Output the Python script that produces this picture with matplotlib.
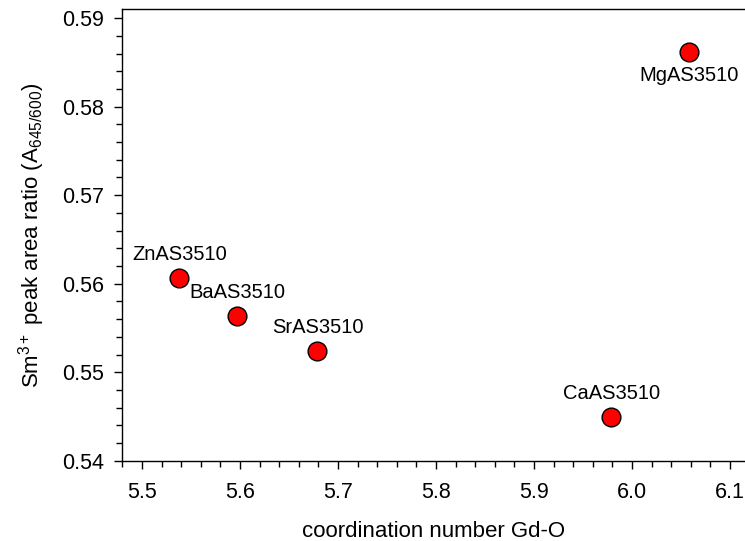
import matplotlib
matplotlib.use("Agg")
from matplotlib import pyplot as plt
from matplotlib.ticker import MultipleLocator

plt.rcParams['font.family'] = ['Liberation Sans', 'DejaVu Sans']
plt.rcParams['mathtext.fontset'] = 'custom'
plt.rcParams['mathtext.rm'] = 'Liberation Sans'
plt.rcParams['mathtext.it'] = 'Liberation Sans'

# data
samples = ['ZnAS3510', 'BaAS3510', 'SrAS3510', 'CaAS3510', 'MgAS3510']
coord_num = [5.538, 5.597, 5.679, 5.979, 6.058]
area_ratio = [0.5606, 0.5563, 0.5524, 0.5449, 0.5862]
# label above (+1) or below (-1) the marker
label_side = [1, 1, 1, 1, -1]

fig = plt.figure(figsize=(7.45, 5.41), dpi=100)
ax = fig.add_axes([0.1638, 0.1484, 0.8362, 0.8344])

ax.plot(coord_num, area_ratio, 'o', ms=13.5, mfc='#ff0000', mec='black',
        mew=1.0, ls='none')

for name, x, y, side in zip(samples, coord_num, area_ratio, label_side):
    ax.annotate(name, (x, y), xytext=(0, 17 * side), textcoords='offset points',
                ha='center', va='center', fontsize=14.5)

ax.set_xlim(5.4796, 6.1153)
ax.set_ylim(0.54, 0.5910)

ax.xaxis.set_major_locator(MultipleLocator(0.1))
ax.xaxis.set_minor_locator(MultipleLocator(0.02))
ax.yaxis.set_major_locator(MultipleLocator(0.01))
ax.yaxis.set_minor_locator(MultipleLocator(0.002))
ax.xaxis.set_major_formatter(plt.FormatStrFormatter('%.1f'))
ax.yaxis.set_major_formatter(plt.FormatStrFormatter('%.2f'))

ax.tick_params(which='both', direction='out', top=False, right=False, width=1)
ax.tick_params(which='major', length=6, labelsize=15.5)
ax.tick_params(which='minor', length=4)
ax.tick_params(axis='y', which='major', pad=7)
ax.tick_params(axis='x', which='major', pad=9)

ax.spines['right'].set_visible(False)
for s in ['left', 'bottom', 'top']:
    ax.spines[s].set_linewidth(1)

ax.set_xlabel('coordination number Gd-O', fontsize=16, labelpad=13)
ax.set_ylabel('Sm$^{3+}$ peak area ratio (A$_{645/600}$)', fontsize=16, labelpad=11)

fig.savefig('out.png', dpi=100)
